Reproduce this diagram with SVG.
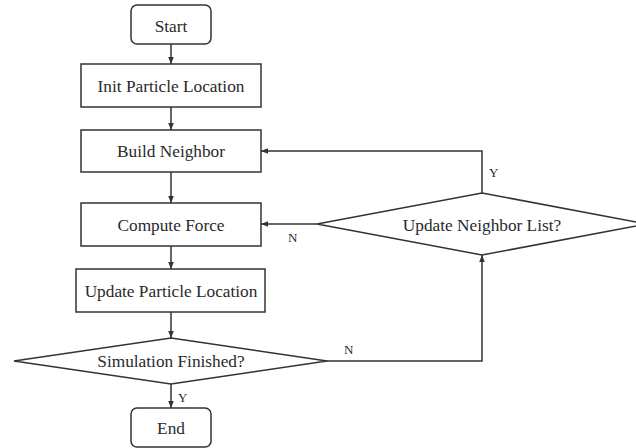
<svg xmlns="http://www.w3.org/2000/svg" width="636" height="448" viewBox="0 0 636 448">
<defs>
<style>
.box{fill:#fff;stroke:#333;stroke-width:1.5}
.t{font-family:"Liberation Serif","Times New Roman",serif;font-size:17.3px;fill:#2a2a2a;text-anchor:middle}
.l{font-family:"Liberation Serif","Times New Roman",serif;font-size:13px;fill:#2a2a2a}
.c{fill:none;stroke:#333;stroke-width:1.5}
</style>
<marker id="ah" viewBox="0 0 10 10" refX="10" refY="5" markerWidth="7" markerHeight="7" markerUnits="userSpaceOnUse" orient="auto">
<path d="M0,1 L10,5 L0,9 z" fill="#333"/>
</marker>
</defs>
<rect width="636" height="448" fill="#fff"/>
<g id="connectors">
<path class="c" d="M171,44 V64" marker-end="url(#ah)"/>
<path class="c" d="M171,107 V130" marker-end="url(#ah)"/>
<path class="c" d="M171,172 V203" marker-end="url(#ah)"/>
<path class="c" d="M171,246 V269" marker-end="url(#ah)"/>
<path class="c" d="M171,312 V338" marker-end="url(#ah)"/>
<path class="c" d="M171,384 V408" marker-end="url(#ah)"/>
<path class="c" d="M326,361 H482 V255" marker-end="url(#ah)"/>
<path class="c" d="M317,224 H261" marker-end="url(#ah)"/>
<path class="c" d="M482,193 V151 H261" marker-end="url(#ah)"/>
<text class="l" x="178" y="402">Y</text>
<text class="l" x="288" y="242">N</text>
<text class="l" x="489" y="177">Y</text>
<text class="l" x="344" y="354">N</text>
</g>
<g id="start"><rect class="box" x="131" y="5" width="80" height="39" rx="6"/><text class="t" x="171" y="32">Start</text></g>
<g id="init"><rect class="box" x="81" y="64" width="180" height="43"/><text class="t" x="171" y="92">Init Particle Location</text></g>
<g id="build"><rect class="box" x="81" y="130" width="180" height="42"/><text class="t" x="171" y="157">Build Neighbor</text></g>
<g id="compute"><rect class="box" x="81" y="203" width="180" height="43"/><text class="t" x="171" y="231">Compute Force</text></g>
<g id="update"><rect class="box" x="76" y="269" width="189" height="43"/><text class="t" x="171" y="297">Update Particle Location</text></g>
<g id="sim"><path class="box" d="M171,338 L327,361 L171,384 L14,361 Z"/><text class="t" x="171" y="367">Simulation Finished?</text></g>
<g id="end"><rect class="box" x="131" y="408" width="80" height="39" rx="6"/><text class="t" x="171" y="434">End</text></g>
<g id="unl"><path class="box" d="M482,193 L647,224 L482,255 L317,224 Z"/><text class="t" x="482" y="231">Update Neighbor List?</text></g>
</svg>
